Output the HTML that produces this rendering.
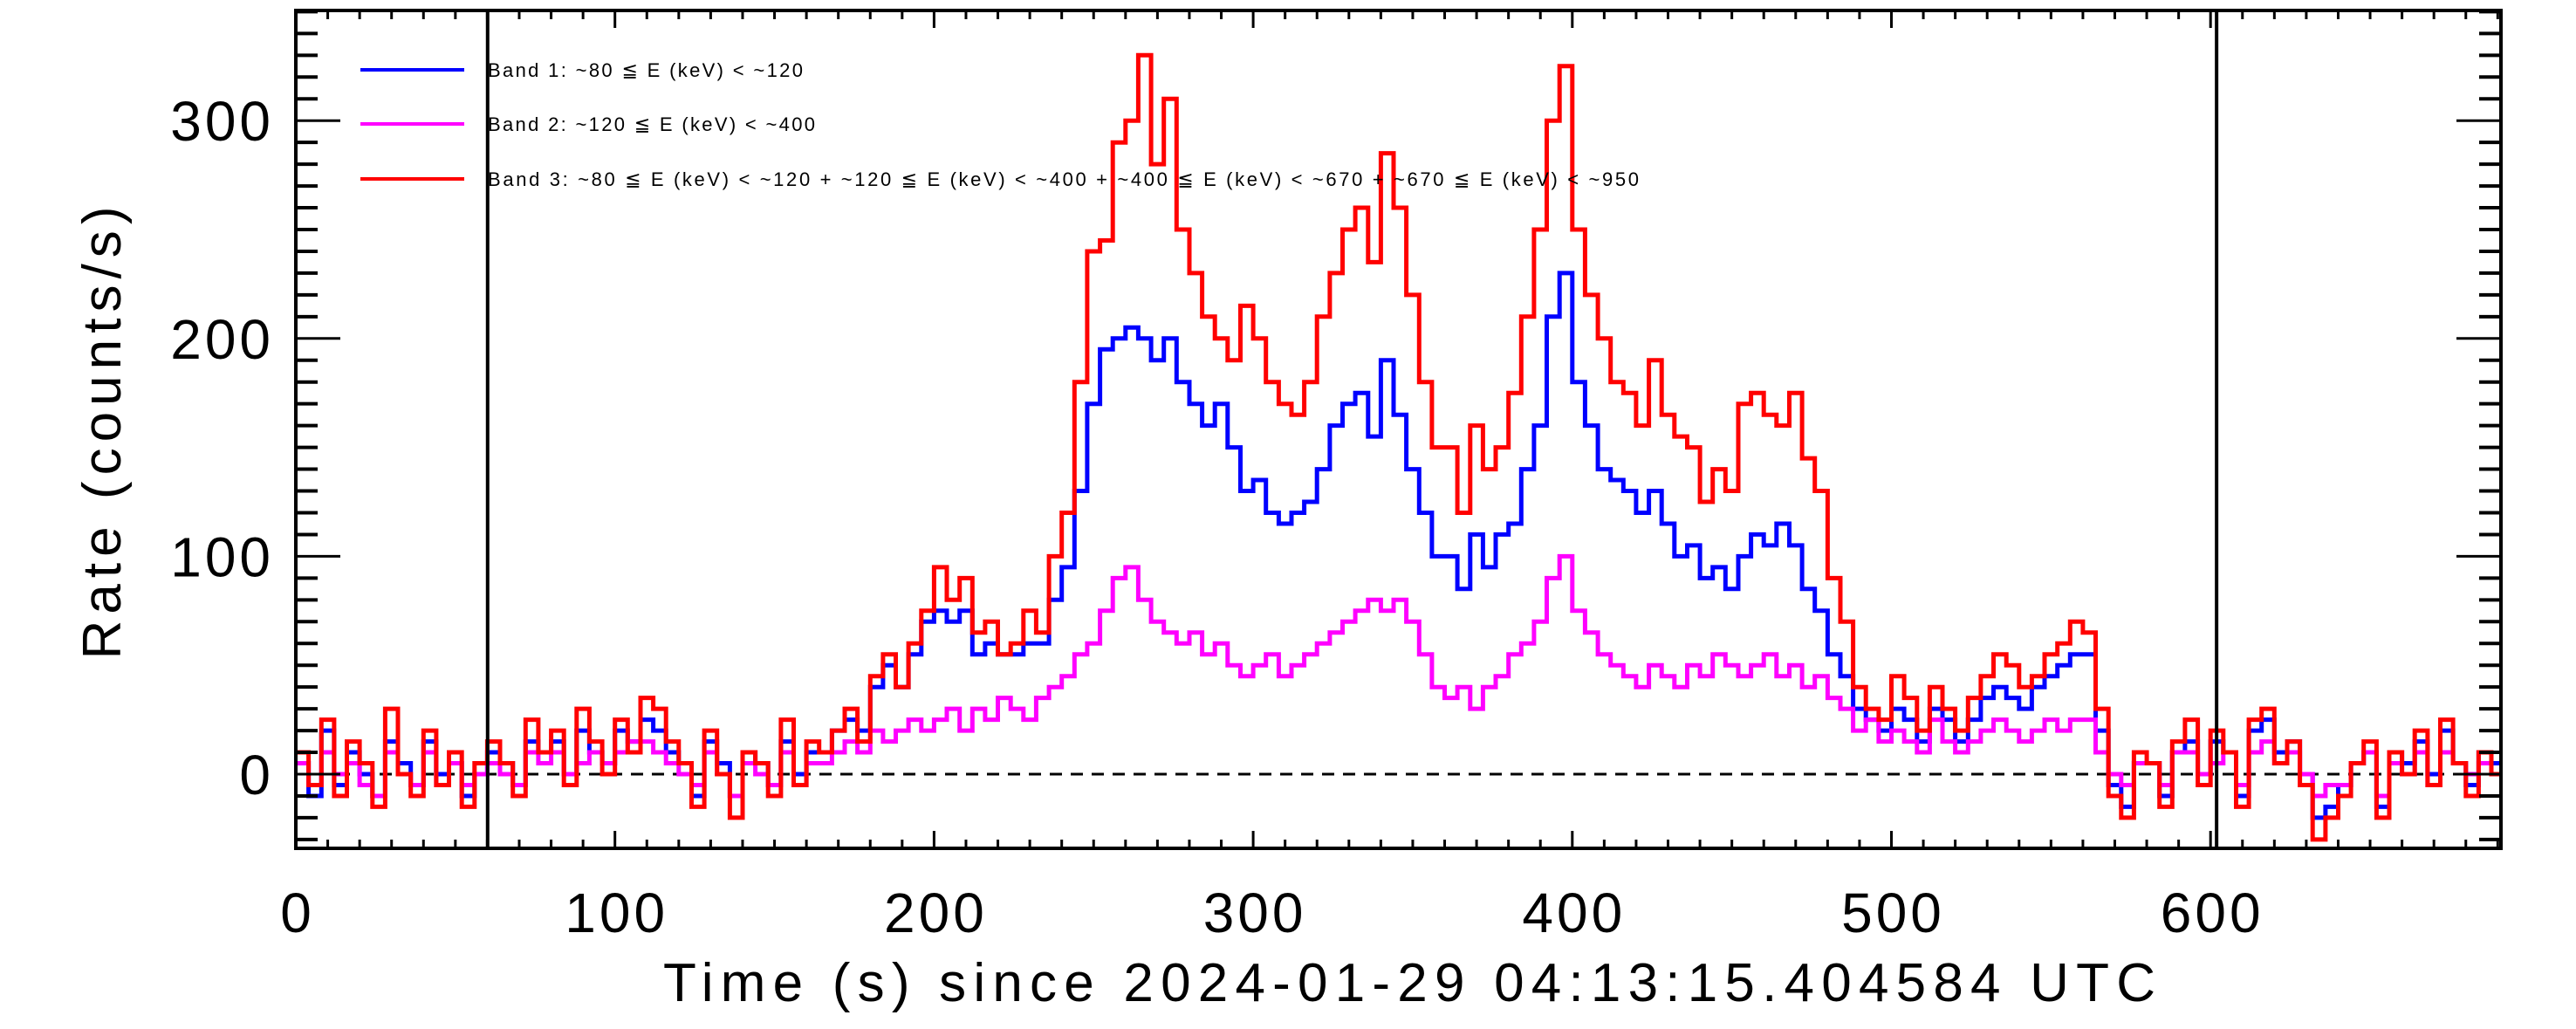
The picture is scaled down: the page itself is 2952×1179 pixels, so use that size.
<!DOCTYPE html>
<html><head><meta charset="utf-8"><style>
html,body{margin:0;padding:0;background:#fff;}
svg{display:block;font-family:"Liberation Sans",sans-serif;}
</style></head><body>
<svg id="chart" width="2952" height="1179" viewBox="0 0 2952 1179" xmlns="http://www.w3.org/2000/svg">
<defs><clipPath id="plotclip"><rect x="339" y="12" width="2527" height="960"/></clipPath></defs>
<rect width="2952" height="1179" fill="#fff"/>
<g id="series" clip-path="url(#plotclip)"></g>
<g id="axes"></g>
<g id="legend"></g>
</svg>
<script>
const binStart = 0;
const binWidth = 4;
const band1Values = [5,-10,20,-5,10,0,-10,15,5,-5,15,0,5,-10,0,
10,5,-5,15,10,15,0,20,10,5,20,15,25,20,10,
5,-10,15,5,-10,10,5,-5,15,0,10,10,
20,25,20,40,50,40,55,70,
75,70,75,55,60,55,55,60,60,80,
95,130,170,195,200,205,200,190,200,180,
170,160,170,150,130,135,120,115,120,125,
140,160,170,175,155,190,165,140,120,100,
100,85,110,95,110,115,140,160,210,230,
180,160,140,135,130,120,130,115,100,105,
90,95,85,100,110,105,115,105,85,75,
55,45,30,25,20,30,25,15,30,25,
15,25,35,40,35,30,40,45,50,55,
55,20,-5,-15,5,5,-10,10,15,0,
15,10,-10,20,25,10,15,0,-20,-15,
-5,5,10,-15,10,5,15,0,20,5,-5,10,5];
const band2Values = [5,-5,10,0,5,-5,-10,10,0,-5,10,-5,5,-5,0,
5,0,-5,10,5,10,0,5,10,5,10,15,15,10,5,
0,-5,10,0,-10,5,0,-5,10,-5,5,5,
10,15,10,20,15,20,25,20,
25,30,20,30,25,35,30,25,35,40,
45,55,60,75,90,95,80,70,65,60,
65,55,60,50,45,50,55,45,50,55,
60,65,70,75,80,75,80,70,55,40,
35,40,30,40,45,55,60,70,90,100,
75,65,55,50,45,40,50,45,40,50,
45,55,50,45,50,55,45,50,40,45,
35,30,20,25,15,20,15,10,25,15,
10,15,20,25,20,15,20,25,20,25,
25,10,0,-5,5,5,-5,10,10,0,
5,10,-5,10,15,5,10,0,-10,-5,
-5,5,10,-10,5,0,10,-5,10,5,0,5,0];
const band3Values = [10,-5,25,-10,15,5,-15,30,0,-10,20,-5,10,-15,5,
15,5,-10,25,10,20,-5,30,15,0,25,10,35,30,15,
5,-15,20,0,-20,10,5,-10,25,-5,15,10,
20,30,15,45,55,40,60,75,
95,80,90,65,70,55,60,75,65,100,
120,180,240,245,290,300,330,280,310,250,
230,210,200,190,215,200,180,170,165,180,
210,230,250,260,235,285,260,220,180,150,
150,120,160,140,150,175,210,250,300,325,
250,220,200,180,175,160,190,165,155,150,
125,140,130,170,175,165,160,175,145,130,
90,70,40,30,25,45,35,20,40,30,
20,35,45,55,50,40,45,55,60,70,
65,30,-10,-20,10,5,-15,15,25,-5,
20,10,-15,25,30,5,15,-5,-30,-20,
-10,5,15,-20,10,0,20,-5,25,5,-10,10,0];
const xTickLabels = ["0","100","200","300","400","500","600"];
const xTickValues = [0,100,200,300,400,500,600];
const yTickLabels = ["0","100","200","300"];
const yTickValues = [0,100,200,300];
const markerTimes = [60.1, 601.9];
const legendLabels = [
 "Band 1: ~80 \u2266 E (keV) < ~120",
 "Band 2: ~120 \u2266 E (keV) < ~400",
 "Band 3: ~80 \u2266 E (keV) < ~120 + ~120 \u2266 E (keV) < ~400 + ~400 \u2266 E (keV) < ~670 + ~670 \u2266 E (keV) < ~950"
];

const L=339,R=2866,T=12,B=972;
const xMin=0,xMax=(R-L)/3.657,y0px=887,yScale=2.496;
const yMin=(y0px-B)/yScale, yMax=(y0px-T)/yScale;
function X(t){return L+(t-xMin)/(xMax-xMin)*(R-L);}
function Y(v){return B-(v-yMin)/(yMax-yMin)*(B-T);}
const NS="http://www.w3.org/2000/svg";
function mk(tag,attrs,parent){const e=document.createElementNS(NS,tag);for(const k in attrs)e.setAttribute(k,attrs[k]);parent.appendChild(e);return e;}
const gS=document.getElementById('series'),gA=document.getElementById('axes'),gL=document.getElementById('legend');

function stepPath(vals){
 let d='';
 vals.forEach((v,i)=>{const x1=X(binStart+i*binWidth),x2=X(binStart+(i+1)*binWidth),y=Y(v);
  d+=(i===0?'M':'L')+x1.toFixed(1)+','+y.toFixed(1)+'L'+x2.toFixed(1)+','+y.toFixed(1);});
 return d;
}
let zl=mk('line',{x1:L,x2:R,y1:Y(0),y2:Y(0),stroke:'#000','stroke-width':3,'stroke-dasharray':'14,10'},gS);


const series=[[band1Values,'#0000ff','band-1-curve'],[band2Values,'#ff00ff','band-2-curve'],[band3Values,'#ff0000','band-3-curve']];
series.forEach(s=>{
 const p=mk('path',{d:stepPath(s[0]),fill:'none',stroke:s[1],'stroke-width':5,'stroke-linejoin':'miter'},gS);
 
 
});
markerTimes.forEach((t,i)=>{
 const l=mk('line',{x1:X(t),x2:X(t),y1:T,y2:B,stroke:'#000','stroke-width':4},gS);
 
 
});
const fr=mk('rect',{x:L,y:T,width:R-L,height:B-T,fill:'none',stroke:'#000','stroke-width':4},gA);


for(let v=-30;v<=350;v+=10){
 const major=v%100===0,len=major?51:25,y=Y(v);
 mk('line',{x1:L,x2:L+len,y1:y,y2:y,stroke:'#000','stroke-width':major?3:4},gA);
 mk('line',{x1:R,x2:R-len,y1:y,y2:y,stroke:'#000','stroke-width':major?3:4},gA);
}
for(let t=0;t<=xMax;t+=10){
 const major=t%100===0,len=major?20:10,x=X(t);
 mk('line',{x1:x,x2:x,y1:B,y2:B-len,stroke:'#000','stroke-width':3},gA);
 mk('line',{x1:x,x2:x,y1:T,y2:T+len,stroke:'#000','stroke-width':3},gA);
}
yTickLabels.forEach((lab,i)=>{
 const t=mk('text',{x:314,y:Y(yTickValues[i])+23,'text-anchor':'end','font-size':64,fill:'#000','letter-spacing':4},gA);
 t.textContent=lab;
 
 
});
xTickLabels.forEach((lab,i)=>{
 const t=mk('text',{x:X(xTickValues[i])+2,y:1068,'text-anchor':'middle','font-size':64,fill:'#000','letter-spacing':4},gA);
 t.textContent=lab;
 
 
});
const xt=mk('text',{x:760,y:1147,'font-size':62,fill:'#000',textLength:1710,lengthAdjust:'spacing'},gA);
xt.textContent='Time (s) since 2024-01-29 04:13:15.404584 UTC';


const yt=mk('text',{x:0,y:0,'font-size':62,fill:'#000',textLength:519,lengthAdjust:'spacing','text-anchor':'middle',transform:'translate(138,496) rotate(-90)'},gA);
yt.textContent='Rate (counts/s)';


const legY=[80,142,205],legW=[361,375,1319],legC=['#0000ff','#ff00ff','#ff0000'];
legendLabels.forEach((lab,i)=>{
 const ln=mk('line',{x1:413,x2:532,y1:legY[i],y2:legY[i],stroke:legC[i],'stroke-width':4},gL);
 
 
 const tx=mk('text',{x:559,y:legY[i]+8,'font-size':22,fill:'#000',textLength:legW[i],lengthAdjust:'spacing'},gL);
 tx.textContent=lab;
 
 
});
</script>
</body></html>
